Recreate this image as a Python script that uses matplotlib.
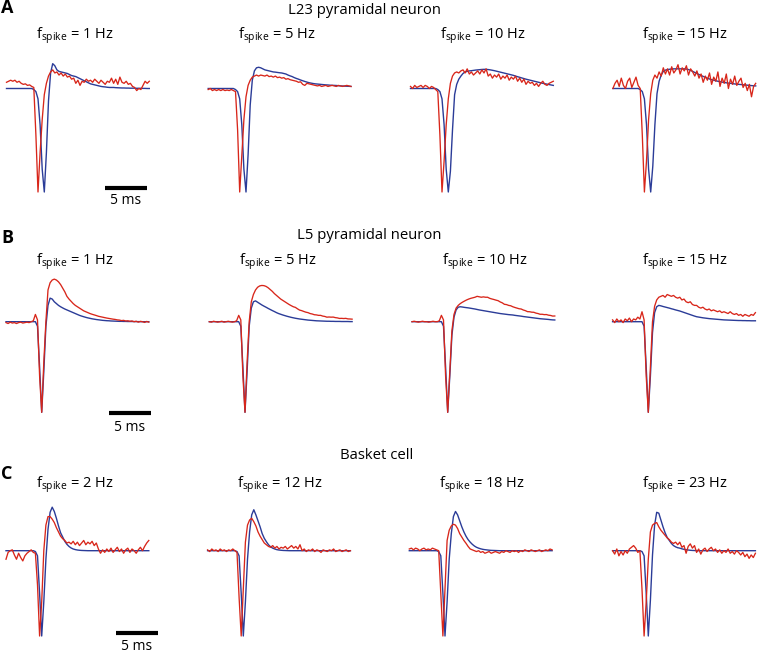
import numpy as np
import matplotlib
matplotlib.use("Agg")
import matplotlib.pyplot as plt

plt.rcParams['font.family'] = ['Open Sans', 'DejaVu Sans']
plt.rcParams['mathtext.fontset'] = 'custom'
plt.rcParams['mathtext.rm'] = 'Open Sans'
plt.rcParams['mathtext.it'] = 'Open Sans:italic'

# ---------------- data ----------------
t_ms = np.arange(69) * 0.25   # sample times (ms)

row_titles = ["L23 pyramidal neuron", "L5 pyramidal neuron", "Basket cell"]
row_letters = ["A", "B", "C"]
rates = [[1, 5, 10, 15], [1, 5, 10, 15], [2, 12, 18, 23]]

# normalised amplitudes (trough = -1); "model" = blue, "exp" = red
a1_model = [0.0] * 13 + [-0.01, -0.03, -0.10, -0.35, -0.78, -1.00, -0.62,
    -0.12, 0.15, 0.24, 0.22, 0.18, 0.165, 0.16, 0.155, 0.15, 0.145,
    0.135, 0.125, 0.12, 0.115, 0.105, 0.095, 0.085, 0.075, 0.065, 0.055,
    0.045, 0.04, 0.035, 0.03, 0.025, 0.02, 0.017, 0.015, 0.012, 0.01,
    0.01, 0.01, 0.008, 0.007, 0.006, 0.005, 0.005, 0.004, 0.004, 0.003,
    0.003, 0.003, 0.002, 0.002, 0.002, 0.001, 0.001, 0.0, 0.0]
a1_exp = [0.06, 0.07, 0.08, 0.07, 0.08, 0.06, 0.07, 0.05, 0.04, 0.045,
    0.03, 0.035, 0.02, 0.01, -0.45, -1.0, -0.62, -0.3, -0.06, 0.05,
    0.12, 0.16, 0.18, 0.15, 0.16, 0.13, 0.15, 0.12, 0.14, 0.11,
    0.12, 0.09, 0.10, 0.05, 0.08, 0.03, 0.07, 0.06, 0.09, 0.07,
    0.08, 0.06, 0.09, 0.07, 0.05, 0.08, 0.06, 0.04, 0.07, 0.06,
    0.10, 0.05, 0.09, 0.04, 0.11, 0.06, 0.05, 0.07, 0.04, 0.05,
    0.02, 0.01, -0.02, 0.0, -0.01, 0.03, 0.07, 0.05, 0.07]

a2_model = [0.0] * 13 + [-0.01, -0.03, -0.10, -0.35, -0.78, -1.0, -0.64,
    -0.16, 0.08, 0.17, 0.2, 0.205, 0.2, 0.19, 0.18, 0.175, 0.17,
    0.165, 0.16, 0.158, 0.155, 0.152, 0.15, 0.145, 0.14, 0.13, 0.122,
    0.115, 0.105, 0.097, 0.09, 0.082, 0.075, 0.068, 0.062, 0.056, 0.052,
    0.048, 0.045, 0.043, 0.041, 0.039, 0.037, 0.035, 0.034, 0.032, 0.031,
    0.03, 0.029, 0.027, 0.025, 0.024, 0.023, 0.022, 0.021, 0.02]
a2_exp = [-0.01, 0.0, -0.02, -0.01, -0.02, -0.01, -0.02, -0.01, -0.02, -0.015,
    -0.02, -0.01, -0.02, -0.03, -0.4, -1.0, -0.65, -0.3, -0.08, 0.03,
    0.08, 0.11, 0.12, 0.13, 0.12, 0.13, 0.125, 0.12, 0.13, 0.115,
    0.12, 0.11, 0.12, 0.105, 0.11, 0.1, 0.105, 0.09, 0.095, 0.085,
    0.08, 0.075, 0.07, 0.06, 0.065, 0.04, 0.03, 0.05, 0.045, 0.04,
    0.035, 0.03, 0.025, 0.03, 0.02, 0.025, 0.03, 0.02, 0.025, 0.03,
    0.025, 0.02, 0.03, 0.025, 0.02, 0.025, 0.03, 0.025, 0.02]

a3_model = [0.0] * 13 + [-0.01, -0.03, -0.1, -0.35, -0.78, -1.0, -0.8,
    -0.4, -0.06, 0.04, 0.09, 0.12, 0.145, 0.16, 0.165, 0.17, 0.172,
    0.175, 0.178, 0.18, 0.182, 0.184, 0.185, 0.185, 0.183, 0.18, 0.176,
    0.172, 0.167, 0.162, 0.157, 0.152, 0.147, 0.142, 0.137, 0.132, 0.127,
    0.12, 0.114, 0.108, 0.102, 0.096, 0.09, 0.085, 0.08, 0.075, 0.07,
    0.065, 0.06, 0.055, 0.05, 0.046, 0.042, 0.038, 0.034, 0.03]
a3_exp = [0.02, 0.0, 0.03, 0.01, 0.02, 0.03, 0.01, 0.03, 0.02, 0.0,
    0.02, 0.01, -0.01, -0.03, -0.45, -1.0, -0.7, -0.35, -0.1, 0.05,
    0.12, 0.15, 0.16, 0.15, 0.17, 0.18, 0.15, 0.19, 0.14, 0.16,
    0.13, 0.15, 0.17, 0.14, 0.18, 0.15, 0.19, 0.12, 0.14, 0.1,
    0.13, 0.11, 0.14, 0.09, 0.12, 0.1, 0.13, 0.08, 0.11, 0.09,
    0.12, 0.07, 0.1, 0.06, 0.09, 0.04, 0.07, 0.05, 0.06, 0.03,
    0.05, 0.02, 0.05, 0.07, 0.04, 0.03, 0.05, 0.06, 0.07]

a4_model = [0.0] * 13 + [-0.01, -0.03, -0.1, -0.35, -0.78, -1.0, -0.75,
    -0.35, -0.05, 0.07, 0.13, 0.165, 0.178, 0.183, 0.186, 0.188, 0.19,
    0.19, 0.19, 0.19, 0.19, 0.19, 0.188, 0.183, 0.175, 0.165, 0.155,
    0.145, 0.135, 0.125, 0.117, 0.108, 0.1, 0.092, 0.085, 0.08, 0.075,
    0.07, 0.066, 0.062, 0.058, 0.055, 0.052, 0.05, 0.047, 0.044, 0.042,
    0.04, 0.038, 0.036, 0.034, 0.032, 0.03, 0.028, 0.026, 0.025]
a4_exp = [0.0, 0.05, 0.08, 0.02, 0.1, 0.03, 0.0, 0.07, 0.1, 0.01,
    0.06, 0.11, 0.03, 0.0, -0.45, -1.0, -0.7, -0.3, -0.05, 0.08,
    0.13, 0.1, 0.16, 0.12, 0.2, 0.14, 0.19, 0.13, 0.21, 0.15,
    0.18, 0.23, 0.14, 0.2, 0.17, 0.22, 0.13, 0.19, 0.16, 0.12,
    0.17, 0.1, 0.14, 0.06, 0.12, 0.08, 0.15, 0.04, 0.11, 0.07,
    0.16, 0.02, 0.1, 0.05, 0.14, 0.0, 0.09, 0.04, 0.12, 0.03,
    0.07, 0.1, 0.01, 0.05, -0.02, 0.04, -0.08, 0.02, 0.05]

b1_model = [0.0] * 15 + [-0.05, -0.5, -1.0, -0.55, -0.05,
    0.18, 0.26, 0.25, 0.22, 0.2, 0.18, 0.165, 0.152, 0.14, 0.13,
    0.12, 0.11, 0.1, 0.09, 0.08, 0.07, 0.062, 0.055, 0.048, 0.042,
    0.037, 0.032, 0.028, 0.024, 0.021, 0.018, 0.015, 0.013, 0.011, 0.01,
    0.008, 0.007, 0.006, 0.005, 0.004, 0.004, 0.003, 0.003, 0.002, 0.002,
    0.002, 0.001, 0.001, 0.001, 0.0, 0.0, 0.0, 0.0, 0.0]
b1_exp = [-0.01, -0.02, -0.005, -0.015, -0.01, -0.02, -0.01, -0.005, -0.015, -0.01,
    -0.005, -0.01, 0.0, 0.01, 0.08, 0.02, -0.6, -1.0, -0.45, 0.0,
    0.35, 0.43, 0.46, 0.47, 0.46, 0.44, 0.41, 0.37, 0.33, 0.28,
    0.25, 0.225, 0.2, 0.18, 0.165, 0.15, 0.135, 0.12, 0.11, 0.1,
    0.09, 0.082, 0.075, 0.068, 0.06, 0.055, 0.05, 0.045, 0.04, 0.036,
    0.032, 0.028, 0.025, 0.02, 0.018, 0.012, 0.015, 0.008, 0.01, 0.005,
    0.008, 0.0, 0.005, -0.005, 0.004, 0.0, -0.008, 0.003, -0.005]

b2_model = [0.0] * 15 + [-0.05, -0.5, -1.0, -0.55, -0.05,
    0.15, 0.22, 0.23, 0.215, 0.2, 0.185, 0.172, 0.16, 0.147, 0.135,
    0.123, 0.112, 0.1, 0.09, 0.082, 0.074, 0.067, 0.06, 0.054, 0.048,
    0.043, 0.038, 0.034, 0.03, 0.027, 0.024, 0.021, 0.018, 0.016, 0.014,
    0.012, 0.01, 0.009, 0.008, 0.007, 0.006, 0.005, 0.005, 0.004, 0.004,
    0.003, 0.003, 0.003, 0.002, 0.002, 0.002, 0.002, 0.001, 0.001]
b2_exp = [0.0, -0.005, 0.005, 0.0, -0.005, 0.0, 0.005, -0.005, 0.0, 0.005,
    0.0, -0.005, 0.0, 0.01, 0.07, 0.02, -0.6, -1.0, -0.45, 0.0,
    0.22, 0.3, 0.35, 0.38, 0.395, 0.4, 0.398, 0.39, 0.375, 0.355,
    0.335, 0.31, 0.29, 0.27, 0.25, 0.235, 0.22, 0.205, 0.19, 0.177,
    0.165, 0.158, 0.142, 0.128, 0.122, 0.113, 0.105, 0.1, 0.09, 0.085,
    0.077, 0.075, 0.07, 0.07, 0.062, 0.058, 0.05, 0.052, 0.05, 0.051,
    0.045, 0.042, 0.036, 0.037, 0.035, 0.037, 0.031, 0.03, 0.028]

b3_model = [0.0] * 15 + [-0.05, -0.5, -1.0, -0.6, -0.15,
    0.05, 0.13, 0.16, 0.165, 0.162, 0.158, 0.155, 0.152, 0.148, 0.144,
    0.14, 0.135, 0.13, 0.126, 0.122, 0.118, 0.114, 0.11, 0.106, 0.102,
    0.098, 0.094, 0.09, 0.087, 0.084, 0.081, 0.078, 0.076, 0.074, 0.07,
    0.067, 0.064, 0.061, 0.057, 0.054, 0.051, 0.048, 0.045, 0.042, 0.039,
    0.036, 0.033, 0.031, 0.029, 0.027, 0.025, 0.022, 0.02, 0.019]
b3_exp = [0.0, 0.005, 0.0, -0.005, 0.0, 0.005, 0.0, 0.0, -0.005, 0.0,
    0.005, 0.0, 0.0, 0.01, 0.07, 0.02, -0.6, -1.0, -0.55, -0.1,
    0.08, 0.15, 0.18, 0.2, 0.215, 0.228, 0.24, 0.25, 0.258, 0.264,
    0.27, 0.28, 0.275, 0.27, 0.274, 0.27, 0.27, 0.258, 0.251, 0.245,
    0.238, 0.232, 0.218, 0.208, 0.192, 0.189, 0.18, 0.176, 0.165, 0.157,
    0.15, 0.143, 0.14, 0.129, 0.122, 0.111, 0.11, 0.105, 0.104, 0.095,
    0.09, 0.082, 0.082, 0.078, 0.079, 0.072, 0.069, 0.062, 0.063]

b4_model = [0.0] * 15 + [-0.05, -0.5, -1.0, -0.6, -0.12,
    0.1, 0.165, 0.18, 0.175, 0.168, 0.162, 0.156, 0.15, 0.143, 0.137,
    0.13, 0.124, 0.118, 0.11, 0.102, 0.094, 0.086, 0.078, 0.07, 0.062,
    0.055, 0.051, 0.047, 0.043, 0.04, 0.037, 0.034, 0.032, 0.03, 0.028,
    0.026, 0.024, 0.022, 0.02, 0.019, 0.018, 0.017, 0.016, 0.015, 0.014,
    0.013, 0.013, 0.012, 0.012, 0.011, 0.011, 0.01, 0.01, 0.01]
b4_exp = [0.02, -0.01, 0.03, 0.0, 0.02, -0.01, 0.03, 0.01, 0.04, 0.0,
    0.03, 0.02, 0.05, 0.03, 0.11, 0.02, -0.6, -1.0, -0.5, 0.0,
    0.17, 0.24, 0.27, 0.28, 0.29, 0.27, 0.3, 0.29, 0.28, 0.29,
    0.27, 0.26, 0.27, 0.24, 0.25, 0.22, 0.21, 0.22, 0.19, 0.18,
    0.18, 0.16, 0.15, 0.16, 0.14, 0.13, 0.14, 0.12, 0.13, 0.12,
    0.11, 0.12, 0.1, 0.11, 0.1, 0.09, 0.11, 0.09, 0.08, 0.09,
    0.07, 0.08, 0.06, 0.08, 0.07, 0.06, 0.08, 0.07, 0.1]

c1_model = [0.0] * 14 + [-0.01, -0.06, -0.5, -1.0, -0.6, -0.1,
    0.25, 0.45, 0.51, 0.46, 0.38, 0.29, 0.21, 0.16, 0.11, 0.075,
    0.05, 0.032, 0.02, 0.013, 0.008, 0.005, 0.003, 0.002, 0.001] + [0.0] * 30
c1_exp = [-0.1, -0.02, 0.0, 0.01, -0.05, -0.1, -0.03, -0.08, -0.12, -0.06,
    -0.03, -0.01, 0.01, -0.02, -0.03, -0.4, -1.0, -0.6, 0.0, 0.3,
    0.4, 0.4, 0.37, 0.33, 0.27, 0.22, 0.17, 0.14, 0.12, 0.09,
    0.1, 0.08, 0.11, 0.07, 0.1, 0.06, 0.09, 0.12, 0.07, 0.1,
    0.08, 0.11, 0.06, 0.09, 0.02, -0.03, 0.01, -0.02, 0.02, -0.01,
    0.03, -0.02, 0.01, 0.04, -0.01, 0.02, -0.03, 0.01, 0.03, -0.02,
    0.02, 0.0, -0.03, 0.01, 0.04, 0.0, 0.05, 0.09, 0.12]

c2_model = [0.0] * 14 + [-0.01, -0.06, -0.5, -1.0, -0.6, -0.1,
    0.22, 0.42, 0.48, 0.42, 0.35, 0.28, 0.2, 0.145, 0.105, 0.07,
    0.045, 0.03, 0.02, 0.012, 0.008, 0.005, 0.003, 0.002, 0.001] + [0.0] * 30
c2_exp = [0.01, -0.01, 0.02, 0.0, 0.01, -0.01, 0.02, 0.0, 0.01, -0.01,
    0.01, 0.0, 0.02, 0.0, -0.02, -0.55, -1.0, -0.45, 0.1, 0.3,
    0.36, 0.38, 0.34, 0.29, 0.22, 0.17, 0.13, 0.09, 0.07, 0.05,
    0.04, 0.06, 0.03, 0.05, 0.02, 0.04, 0.03, 0.05, 0.02, 0.04,
    0.06, 0.03, 0.05, 0.02, 0.07, 0.0, 0.02, -0.01, 0.01, 0.0,
    0.02, -0.01, 0.01, 0.0, -0.02, 0.01, 0.0, -0.01, 0.01, 0.0,
    0.02, -0.01, 0.0, 0.01, -0.01, 0.0, 0.01, -0.01, 0.0]

c3_model = [0.0] * 14 + [-0.01, -0.06, -0.5, -1.0, -0.6, -0.1,
    0.2, 0.4, 0.46, 0.42, 0.35, 0.28, 0.22, 0.17, 0.13, 0.1,
    0.075, 0.055, 0.04, 0.03, 0.022, 0.016, 0.012, 0.009, 0.006, 0.004,
    0.003, 0.002, 0.001] + [0.0] * 26
c3_exp = [0.02, 0.03, 0.01, 0.03, 0.02, 0.0, 0.02, 0.03, 0.01, 0.02,
    0.01, 0.03, 0.02, 0.01, 0.0, -0.5, -1.0, -0.45, 0.12, 0.24,
    0.29, 0.31, 0.3, 0.26, 0.2, 0.16, 0.12, 0.087, 0.05, 0.02,
    0.01, 0.0, -0.01, 0.0, -0.02, -0.01, -0.03, -0.02, -0.01, -0.03,
    -0.02, -0.01, -0.02, -0.03, -0.01, -0.02, 0.0, -0.01, -0.02, 0.0,
    -0.01, 0.0, -0.02, 0.0, -0.01, 0.01, 0.0, -0.01, 0.01, 0.0,
    -0.01, 0.0, 0.01, -0.01, 0.0, 0.01, 0.0, 0.02, 0.01]

c4_model = [0.0] * 14 + [-0.01, -0.06, -0.5, -1.0, -0.58, -0.05,
    0.3, 0.45, 0.44, 0.36, 0.28, 0.21, 0.155, 0.12, 0.085, 0.06,
    0.045, 0.035, 0.03, 0.022, 0.016, 0.012, 0.008, 0.005, 0.003, 0.002,
    0.001] + [0.0] * 28
c4_exp = [0.0, -0.04, 0.02, -0.06, -0.01, -0.05, 0.0, -0.03, 0.02, 0.04,
    0.06, 0.03, -0.02, 0.0, -0.45, -1.0, -0.6, -0.1, 0.22, 0.3,
    0.32, 0.33, 0.28, 0.24, 0.21, 0.18, 0.15, 0.13, 0.1, 0.085,
    0.1, 0.07, 0.1, 0.04, 0.06, -0.03, 0.05, 0.08, 0.03, 0.06,
    -0.02, 0.02, -0.04, 0.01, 0.03, -0.01, 0.02, 0.04, 0.0, 0.02,
    -0.02, 0.01, -0.03, 0.0, -0.02, 0.02, -0.03, -0.01, -0.04, 0.0,
    -0.02, -0.05, -0.02, -0.07, -0.04, -0.09, -0.05, -0.08, -0.03]

model_traces = [[a1_model, a2_model, a3_model, a4_model],
                [b1_model, b2_model, b3_model, b4_model],
                [c1_model, c2_model, c3_model, c4_model]]
exp_traces = [[a1_exp, a2_exp, a3_exp, a4_exp],
              [b1_exp, b2_exp, b3_exp, b4_exp],
              [c1_exp, c2_exp, c3_exp, c4_exp]]

scale_bar_ms = 5

# ---------------- layout (pixels) ----------------
W, H = 757, 653
PX_PER_MS = 8.4
row_base_px = [88.5, 321.7, 550.7]
row_scale_px = [103.5, 90.6, 85.3]
panel_x0_px = [[6.5, 208.2, 410.5, 612.9],
               [6.0, 209.3, 412.0, 612.6],
               [6.0, 207.6, 409.3, 612.6]]
title_base_px = [38.3, 265.0, 487.7]
section_cx_px = [364.5, 369.0, 377.0]
section_base_px = [13.5, 239.3, 459.3]
letter_base_px = [13.0, 243.3, 479.3]
bar_x_px = [105.0, 109.0, 116.0]
bar_y_px = [188.0, 412.5, 633.0]
bar_text_y_px = [201.0, 427.0, 647.0]

BLUE = '#2b3c98'
RED = '#d8261a'

fig = plt.figure(figsize=(W / 100, H / 100), dpi=100)
XL = (-0.3, 17.3)
YL = (-1.1, 0.65)

for r in range(3):
    base, sc = row_base_px[r], row_scale_px[r]
    top = base - YL[1] * sc
    hpx = (YL[1] - YL[0]) * sc
    for c in range(4):
        x0 = panel_x0_px[r][c]
        left = x0 + XL[0] * PX_PER_MS
        wpx = (XL[1] - XL[0]) * PX_PER_MS
        ax = fig.add_axes([left / W, 1 - (top + hpx) / H, wpx / W, hpx / H])
        ax.set_xlim(*XL)
        ax.set_ylim(*YL)
        ax.axis('off')
        m = model_traces[r][c]
        e = exp_traces[r][c]
        ax.plot(t_ms[:len(m)], m, color=BLUE, lw=1.0, solid_joinstyle='round')
        ax.plot(t_ms[:len(e)], e, color=RED, lw=0.95, solid_joinstyle='round')
        fig.text((x0 + 29.5) / W, 1 - title_base_px[r] / H,
                 r'f$_{\mathrm{spike}}$ = %d Hz' % rates[r][c],
                 fontsize=10.5, ha='left', va='baseline')
        if c == 0:
            tb = (bar_x_px[r] - x0) / PX_PER_MS
            yb = (base - bar_y_px[r]) / sc
            ax.plot([tb, tb + scale_bar_ms], [yb, yb], color='black', lw=3.0,
                    solid_capstyle='butt', clip_on=False)
            ax.text(tb + scale_bar_ms / 2, (base - bar_text_y_px[r]) / sc,
                    '%d ms' % scale_bar_ms, ha='center', va='center',
                    fontsize=10, clip_on=False)
    fig.text(section_cx_px[r] / W, 1 - section_base_px[r] / H, row_titles[r],
             fontsize=10.7, ha='center', va='baseline')
    fig.text(1 / W, 1 - letter_base_px[r] / H, row_letters[r],
             fontsize=13, fontweight='bold', ha='left', va='baseline')

fig.savefig('out.png', dpi=100)
